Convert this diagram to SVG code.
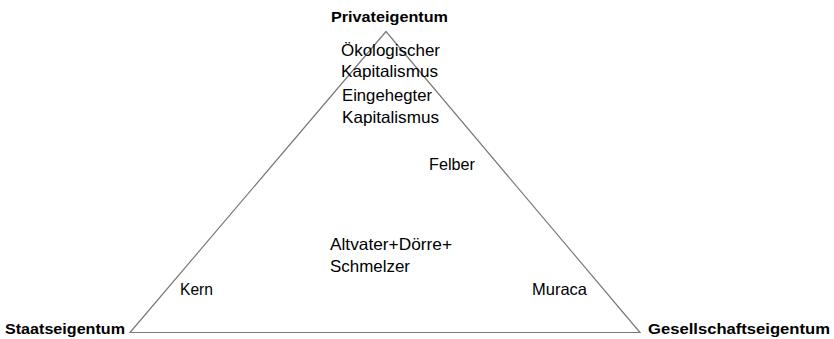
<svg xmlns="http://www.w3.org/2000/svg" width="834" height="339" viewBox="0 0 834 339">
<style>
.t{font-family:"Liberation Sans",Arial,sans-serif;font-size:16.5px;fill:#000}
.b{font-family:"Liberation Sans",Arial,sans-serif;font-size:15px;font-weight:bold;fill:#000}
.edge{fill:none;stroke:#7a7a7a;stroke-width:1.2}
</style>
<rect width="834" height="339" fill="#fff"/>
<g id="connectors">
<polygon class="edge" points="386,31.5 130,332.5 640,332.5"/>
</g>
<g id="privateigentum"><text class="b" x="331" y="22" textLength="117" lengthAdjust="spacingAndGlyphs">Privateigentum</text></g>
<g id="staatseigentum"><text class="b" x="5" y="334" textLength="120" lengthAdjust="spacingAndGlyphs">Staatseigentum</text></g>
<g id="gesellschaftseigentum"><text class="b" x="648" y="334" textLength="182" lengthAdjust="spacingAndGlyphs">Gesellschaftseigentum</text></g>
<g id="oekologisch"><text class="t" x="341" y="56" textLength="99" lengthAdjust="spacingAndGlyphs">Ökologischer</text><text class="t" x="341" y="77" textLength="97" lengthAdjust="spacingAndGlyphs">Kapitalismus</text></g>
<g id="eingehegt"><text class="t" x="342" y="101" textLength="90" lengthAdjust="spacingAndGlyphs">Eingehegter</text><text class="t" x="342" y="123" textLength="97" lengthAdjust="spacingAndGlyphs">Kapitalismus</text></g>
<g id="felber"><text class="t" x="429" y="170" textLength="46" lengthAdjust="spacingAndGlyphs">Felber</text></g>
<g id="altvater"><text class="t" x="330" y="250" textLength="122" lengthAdjust="spacingAndGlyphs">Altvater+Dörre+</text><text class="t" x="330" y="272" textLength="80" lengthAdjust="spacingAndGlyphs">Schmelzer</text></g>
<g id="kern"><text class="t" x="180" y="295" textLength="33" lengthAdjust="spacingAndGlyphs">Kern</text></g>
<g id="muraca"><text class="t" x="532" y="295" textLength="55" lengthAdjust="spacingAndGlyphs">Muraca</text></g>
</svg>
